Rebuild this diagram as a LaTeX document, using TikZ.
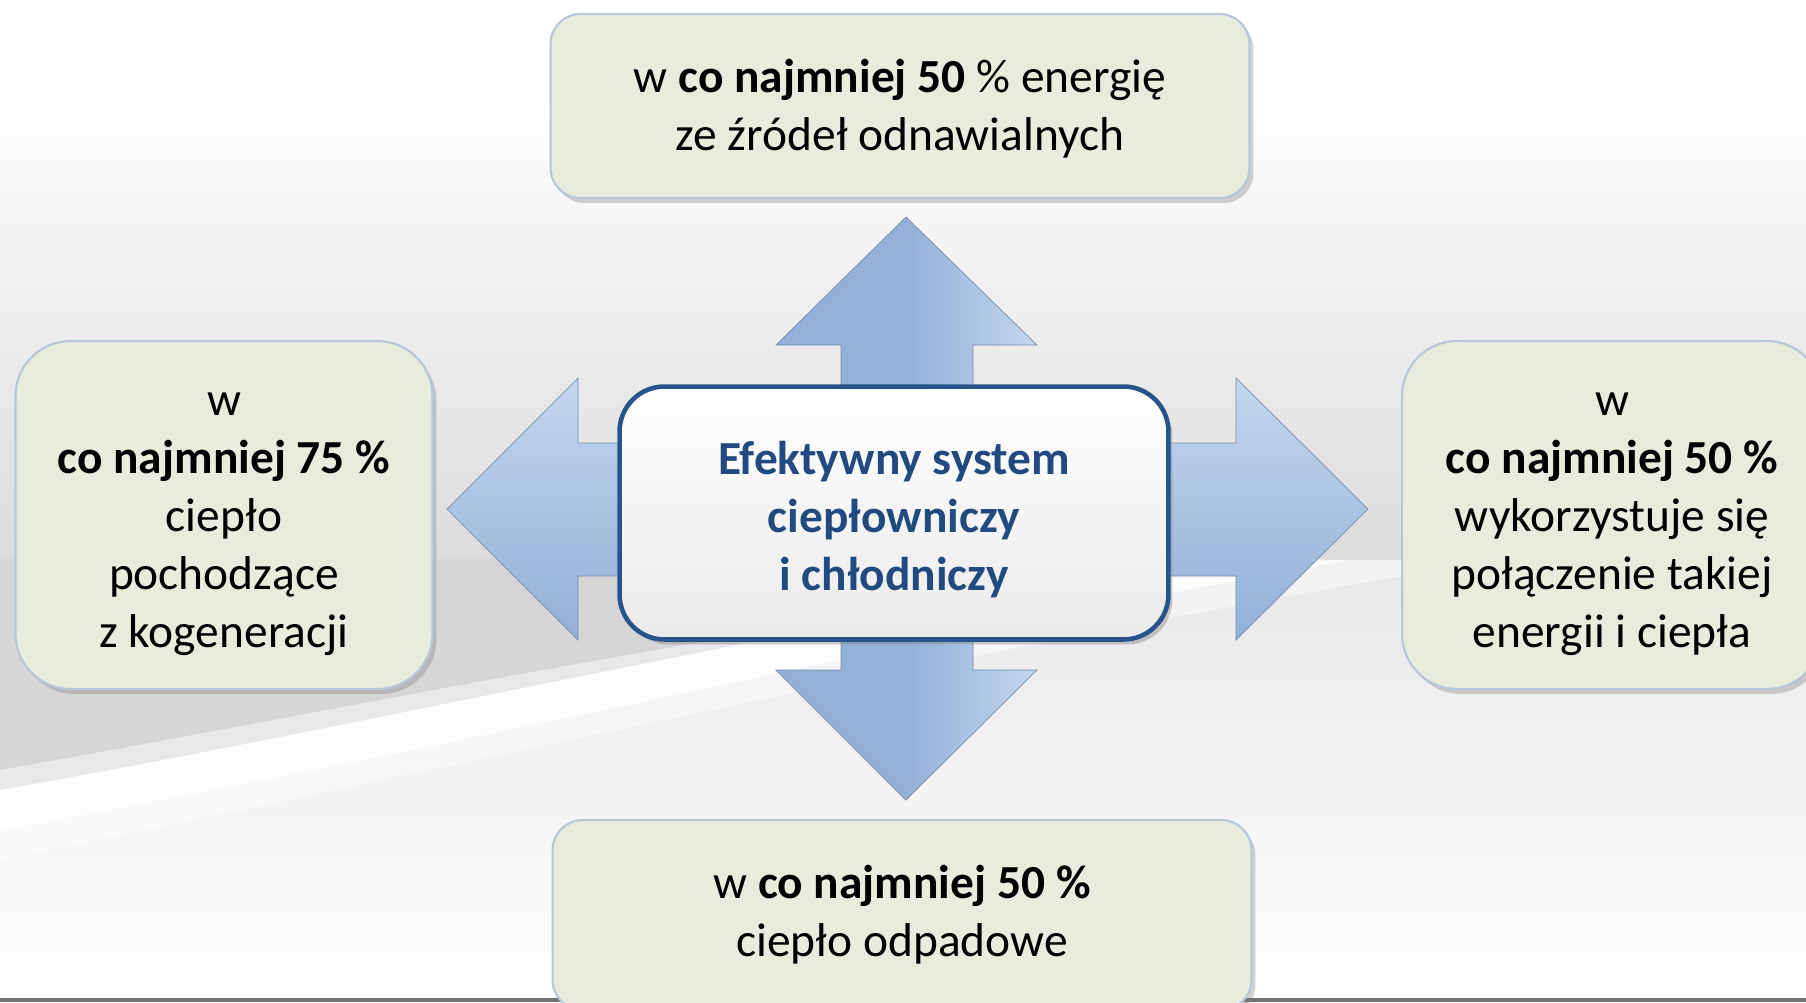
\documentclass[tikz,border=0pt]{standalone}
\usepackage{fontspec}
\setmainfont{Carlito}
\usepackage{tikz}
\usetikzlibrary{positioning, shadows, shapes.misc}
\definecolor{boxfill}{RGB}{231,236,220}
\definecolor{boxline}{RGB}{184,198,218}
\definecolor{centreline}{RGB}{40,84,140}
\definecolor{centretext}{RGB}{33,74,128}
\definecolor{arrowblue}{RGB}{146,176,216}
\definecolor{arrowlight}{RGB}{196,214,238}
\newcommand{\lift}[1]{\rule{0pt}{#1}}
\tikzstyle{goal} = [rectangle, rounded corners=0.6cm, draw=boxline,
line width=1.2pt, fill=boxfill, text centered, align=center,
drop shadow={shadow xshift=0.08cm, shadow yshift=-0.1cm, opacity=0.35},
font=\fontsize{27}{33}\selectfont]
\tikzstyle{sidegoal} = [goal, rounded corners=1.1cm]
\tikzstyle{centre} = [rectangle, rounded corners=0.9cm, draw=centreline,
line width=2.6pt, top color=white, bottom color=black!8,
text centered, align=center, text=centretext,
drop shadow={shadow xshift=0.08cm, shadow yshift=-0.1cm, opacity=0.4},
font=\fontsize{27}{33}\selectfont\bfseries]
\tikzstyle{blockarrow} = [draw=arrowblue!80!black, line width=0.4pt,
left color=arrowblue, right color=arrowlight, middle color=arrowblue]

\begin{document}
\begin{tikzpicture}[x=0.02cm, y=-0.02cm]
\useasboundingbox (0,0) rectangle (1806,1002);

%-------background-------------------
\fill[white] (0,0) rectangle (1806,1002);
\shade[top color=white, bottom color=black!14] (0,100) rectangle (1806,560);
\shade[top color=black!9, bottom color=white] (0,560) rectangle (1806,1002);
\fill[black!16] (0,559) -- (1250,559) .. controls (900,600) and (400,720)
.. (0,790) -- cycle;
\fill[white, opacity=0.45] (0,770) .. controls (400,700) and (900,590) .. (1350,560)
-- (1500,560) .. controls (1000,640) and (400,780) .. (0,860) -- cycle;
\fill[white, opacity=0.8] (0,790) .. controls (400,720) and (900,600) .. (1250,559)
-- (1350,560) .. controls (1000,620) and (400,760) .. (0,830) -- cycle;
\draw[black!55, line width=2pt] (0,1000) -- (1806,1000);

%-------arrows-------------------
% up
\path[blockarrow] (841,520) -- (841,345) -- (776,345) -- (906,217)
-- (1037,345) -- (973,345) -- (973,520) -- cycle;
% down
\path[blockarrow] (841,520) -- (841,670) -- (776,670) -- (906,800)
-- (1037,670) -- (973,670) -- (973,520) -- cycle;
% left
\path[blockarrow, top color=arrowlight, bottom color=arrowblue] (800,443) -- (578,443) -- (578,378) -- (447,509)
-- (578,640) -- (578,576) -- (800,576) -- cycle;
% right
\path[blockarrow, top color=arrowlight, bottom color=arrowblue] (1000,443) -- (1236,443) -- (1236,378) -- (1368,509)
-- (1236,640) -- (1236,576) -- (1000,576) -- cycle;

%-------boxes-------------------
\node (system) [centre, minimum width=10.98cm, minimum height=5.06cm]
at (894,513) {\lift{26.6pt}Efektywny system\\ciepłowniczy\\i chłodniczy};

\node (renew) [goal, minimum width=13.98cm, minimum height=3.68cm]
at (900,106) {\lift{22.4pt}w \textbf{co najmniej 50} \% energię\\ze źródeł odnawialnych};

\node (cogen) [sidegoal, minimum width=8.34cm, minimum height=6.96cm]
at (224,515) {\lift{23.5pt}w\\\textbf{co najmniej 75 \%}\\ciepło\\pochodzące\\z kogeneracji};

\node (mixed) [sidegoal, minimum width=8.4cm, minimum height=6.96cm]
at (1612,515) {\lift{23.5pt}w\\\textbf{co najmniej 50 \%}\\wykorzystuje się\\połączenie takiej\\energii i ciepła};

\node (waste) [goal, minimum width=13.98cm, minimum height=3.8cm]
at (902,915) {w \textbf{co najmniej 50 \%}\\ciepło odpadowe};

\end{tikzpicture}
\end{document}
